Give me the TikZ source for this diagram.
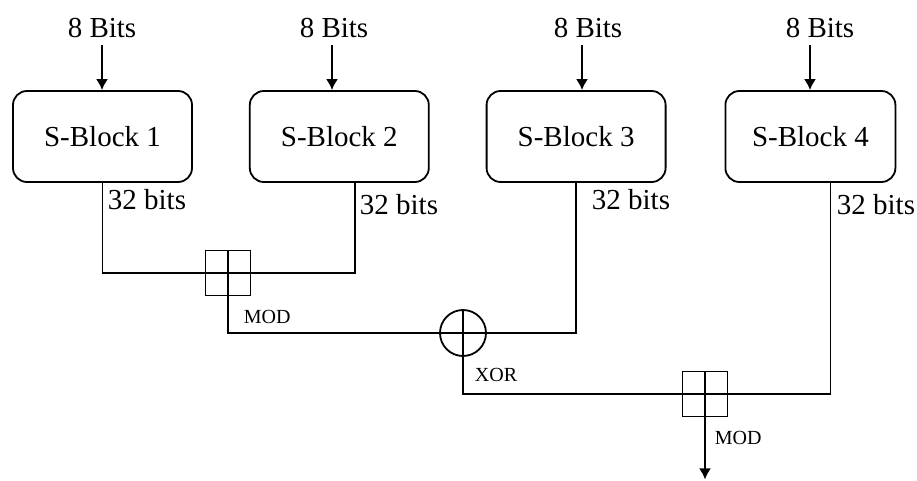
\documentclass[tikz,border=0pt]{standalone}
\usepackage{fontspec}
\setmainfont{Liberation Serif}
\usetikzlibrary{arrows.meta, positioning}

\begin{document}
\begin{tikzpicture}[
    x=0.5pt, y=-0.5pt,
    node distance=28pt,
    line width=0.9pt,
    block/.style={rectangle, rounded corners=7pt, minimum width=89.5pt, minimum height=45.5pt, text centered, draw=black, font=\fontsize{14.5}{17}\selectfont},
    bits/.style={font=\fontsize{14.5}{17}\selectfont},
    small/.style={font=\fontsize{10}{12}\selectfont, inner sep=1pt, anchor=west},
    cross/.style={path picture={\draw (path picture bounding box.north) -- (path picture bounding box.south) (path picture bounding box.west) -- (path picture bounding box.east);}},
    modbox/.style={rectangle, draw=black, minimum size=22.5pt, inner sep=0pt, cross},
    xorcirc/.style={circle, draw=black, minimum size=23pt, inner sep=0pt, cross},
    arrow/.style={-{Latex[length=5.5pt, width=6pt]}}
]
\useasboundingbox (0,0) rectangle (917,481);

% Blocks
\node[block] (b1) at (102.5,136.5) {S-Block 1};
\node[block, right=of b1] (b2) {S-Block 2};
\node[block, right=of b2] (b3) {S-Block 3};
\node[block, right=29pt of b3, minimum width=85pt] (b4) {S-Block 4};

% Inputs
\node[bits] (in1) at (102,28) {8 Bits};
\node[bits] (in2) at (334,28) {8 Bits};
\node[bits] (in3) at (588,28) {8 Bits};
\node[bits] (in4) at (820,28) {8 Bits};

\draw[arrow] (in1.south) -- (in1.south |- b1.north);
\draw[arrow] ([xshift=-1pt]in2.south) -- ([xshift=-1pt]in2.south |- b2.north);
\draw[arrow] ([xshift=-3pt]in3.south) -- ([xshift=-3pt]in3.south |- b3.north);
\draw[arrow] ([xshift=-5pt]in4.south) -- ([xshift=-5pt]in4.south |- b4.north);

% Operations
\node[modbox] (mod1) at (228,273) {};
\node[xorcirc] (xor) at (463,333) {};
\node[modbox] (mod2) at (705,394) {};

% Connections
\coordinate (o2) at ([xshift=7.75pt]b2.south);
\coordinate (o4) at ([xshift=10pt]b4.south);
\coordinate[below=31pt of mod2.south] (out);
\draw (b1.south) |- (mod1.west);
\draw (mod1.east) -| (o2);
\draw (mod1.south) |- (xor.west);
\draw (xor.east) -| (b3.south);
\draw (xor.south) |- (mod2.west);
\draw (mod2.east) -| (o4);
\draw[arrow] (mod2.south) -- (out);

% Labels
\node[bits, anchor=west, inner sep=1pt] (w1) at (105,200) {32 bits};
\node[bits, anchor=west, inner sep=1pt] (w2) at (357,205) {32 bits};
\node[bits, anchor=west, inner sep=1pt] (w3) at (589,200) {32 bits};
\node[bits, anchor=west, inner sep=1pt] (w4) at (834,205) {32 bits};
\node[small] (lmod1) at (241,317) {MOD};
\node[small] (lxor) at (472,375) {XOR};
\node[small] (lmod2) at (712,438) {MOD};

\end{tikzpicture}
\end{document}
